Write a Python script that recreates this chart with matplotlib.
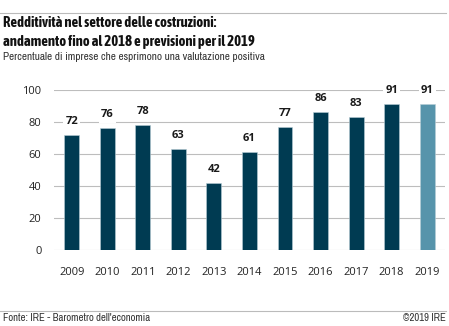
import numpy as np
import matplotlib.pyplot as plt
import matplotlib.lines as mlines
from matplotlib import font_manager

years = ["2009", "2010", "2011", "2012", "2013", "2014", "2015", "2016", "2017", "2018", "2019"]
values = [72, 76, 78, 63, 42, 61, 77, 86, 83, 91, 91]
yticks = [0, 20, 40, 60, 80, 100]

dark = "#003b52"
light = "#5794ab"
colors = [dark] * 10 + [light]

# narrow faces for the header (bold one picked by file if there is one)
cond = [f for f in font_manager.fontManager.ttflist
        if "Condensed" in f.name or "Narrow" in f.name]
cond_bold = [f for f in cond if str(f.weight) in ("bold", "700", "600", "semibold", "demibold")
             and f.style == "normal"]
cond_reg = [f for f in cond if str(f.weight) in ("normal", "400", "regular") and f.style == "normal"]

if cond_bold:
    title_fp = font_manager.FontProperties(fname=cond_bold[0].fname, size=10.5)
else:
    title_fp = font_manager.FontProperties(family=["Liberation Sans", "DejaVu Sans"], weight="bold", size=8.5)
if cond_reg:
    sub_fp = font_manager.FontProperties(fname=cond_reg[0].fname, size=8.1)
    foot_fp = font_manager.FontProperties(fname=cond_reg[0].fname, size=7.7)
else:
    sub_fp = font_manager.FontProperties(family=["Liberation Sans", "DejaVu Sans"], size=7)
    foot_fp = font_manager.FontProperties(family=["Liberation Sans", "DejaVu Sans"], size=6.5)

plt.rcParams['font.family'] = ['Open Sans', 'DejaVu Sans']

fig = plt.figure(figsize=(4.49, 3.26), dpi=100)
ax = fig.add_axes([0.1203, 0.2331, 0.8707, 0.4908])

x = np.arange(len(years))
ax.bar(x, values, width=0.42, color=colors, edgecolor="#b8cdd6", linewidth=0.4, zorder=2)
for xi, v in zip(x, values):
    ax.text(xi, v + 5, str(v), ha="center", va="bottom", fontsize=8, fontweight="bold",
            color="#1a1a1a", zorder=3,
            bbox=dict(facecolor="white", edgecolor="none", pad=1.5))

ax.set_xlim(-0.5, 10.5)
ax.set_ylim(0, 100)
ax.set_yticks(yticks)
ax.set_xticks(x)
ax.set_xticklabels(years)
ax.grid(axis="y", color="#bdbdbd", linewidth=0.8, zorder=0)
ax.set_axisbelow(True)
for s in ax.spines.values():
    s.set_visible(False)
ax.tick_params(axis="both", length=0, labelsize=8, colors="#222222")
ax.tick_params(axis="y", pad=9)
ax.tick_params(axis="x", pad=12)

# header / footer
fig.add_artist(mlines.Line2D([0.0, 0.993], [0.960, 0.960], color="#bbbbbb", linewidth=0.8))
fig.add_artist(mlines.Line2D([0.0, 0.993], [0.046, 0.046], color="#bbbbbb", linewidth=0.8))
fig.text(0.007, 0.929, "Redditività nel settore delle costruzioni:", fontproperties=title_fp,
         va="center", ha="left", color="#111111")
fig.text(0.007, 0.871, "andamento fino al 2018 e previsioni per il 2019", fontproperties=title_fp,
         va="center", ha="left", color="#111111")
fig.text(0.007, 0.825, "Percentuale di imprese che esprimono una valutazione positiva", fontproperties=sub_fp,
         va="center", ha="left", color="#333333")
fig.text(0.007, 0.024, "Fonte: IRE - Barometro dell'economia", fontproperties=foot_fp, va="center", ha="left",
         color="#333333")
fig.text(0.993, 0.024, "©2019 IRE", fontproperties=foot_fp, va="center", ha="right", color="#333333")

fig.savefig("out.png", dpi=100)
